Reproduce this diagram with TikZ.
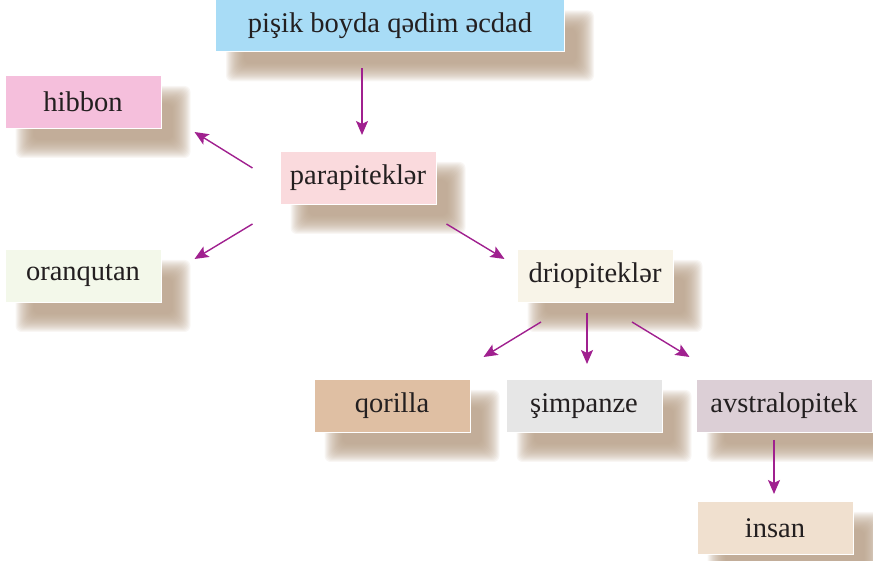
\documentclass[tikz,border=0pt]{standalone}
\usepackage{fontspec}
\setmainfont{Liberation Serif}
\newfontfamily\boxfont{Liberation Serif}
\usetikzlibrary{arrows.meta,backgrounds}

\definecolor{arrowpurple}{RGB}{160,32,143}
\definecolor{textdark}{RGB}{35,31,32}
\definecolor{shadowbrown}{RGB}{180,155,130}
\definecolor{topblue}{RGB}{168,220,246}
\definecolor{hibbonpink}{RGB}{245,191,220}
\definecolor{parapink}{RGB}{250,218,221}
\definecolor{orangreen}{RGB}{243,248,234}
\definecolor{driocream}{RGB}{248,244,232}
\definecolor{qorillatan}{RGB}{223,191,163}
\definecolor{simgray}{RGB}{230,230,230}
\definecolor{avsmauve}{RGB}{220,207,214}
\definecolor{insanbeige}{RGB}{240,224,207}

\begin{document}
\begin{tikzpicture}[x=1pt, y=1pt,
  box/.style={draw=white, line width=1pt, minimum width=156pt, minimum height=53pt,
    inner sep=0pt, text=textdark, font=\boxfont\fontsize{28.5}{30}\selectfont},
  shadowlayer/.style={fill=shadowbrown, opacity=0.085},
  arr/.style={draw=arrowpurple, line width=1.4pt,
    -{Stealth[length=14pt, width=12pt, inset=3pt, fill=arrowpurple]}}]
\useasboundingbox (0,0) rectangle (873,561);
\node[box, fill=topblue, minimum width=349pt, minimum height=52pt] (ancestor) at (390,535) {pişik boyda qədim əcdad};
\node[box, fill=hibbonpink] (hibbon) at (83,459) {hibbon};
\node[box, fill=parapink] (para) at (358,383) {parapiteklər};
\node[box, fill=orangreen] (oran) at (83,285) {oranqutan};
\node[box, fill=driocream] (drio) at (595,285) {driopiteklər};
\node[box, fill=qorillatan] (qorilla) at (392,155) {qorilla};
\node[box, fill=simgray] (simpanze) at (584,155) {şimpanze};
\node[box, fill=avsmauve, minimum width=176pt] (avs) at (784,155) {avstralopitek};
\node[box, fill=insanbeige] (insan) at (775,33) {insan};
% soft shadows
\begin{scope}[on background layer]
\foreach \n in {ancestor,hibbon,para,oran,drio,qorilla,simpanze,avs,insan}
  \foreach \r in {-9,...,9}
    \fill[shadowlayer, rounded corners=6pt] ([shift={(20-\r,-20+\r)}]\n.north west) rectangle ([shift={(20+\r,-20-\r)}]\n.south east);
\end{scope}
\draw[arr, shorten <=16pt, shorten >=16pt] ([xshift=4pt]para.north |- ancestor.south) -- ([xshift=4pt]para.north);
\draw[arr] ([shift={(-27,10)}]para.west) -- ([shift={(33,-3)}]hibbon.south east);
\draw[arr] ([shift={(-27,-19)}]para.south west) -- ([shift={(33,-10)}]oran.north east);
\draw[arr] ([shift={(10,-19)}]para.south east) -- ([shift={(-12,-10)}]drio.north west);
\draw[arr] ([shift={(-54,-19)}]drio.south) -- ([shift={(13,22)}]qorilla.north east);
\draw[arr] ([shift={(-8,-10)}]drio.south) -- ([shift={(3,15)}]simpanze.north);
\draw[arr] ([shift={(37,-19)}]drio.south) -- ([shift={(-6,22)}]avs.north west);
\draw[arr] ([shift={(-10,-7)}]avs.south) -- ([shift={(-1,7)}]insan.north);
\end{tikzpicture}
\end{document}
